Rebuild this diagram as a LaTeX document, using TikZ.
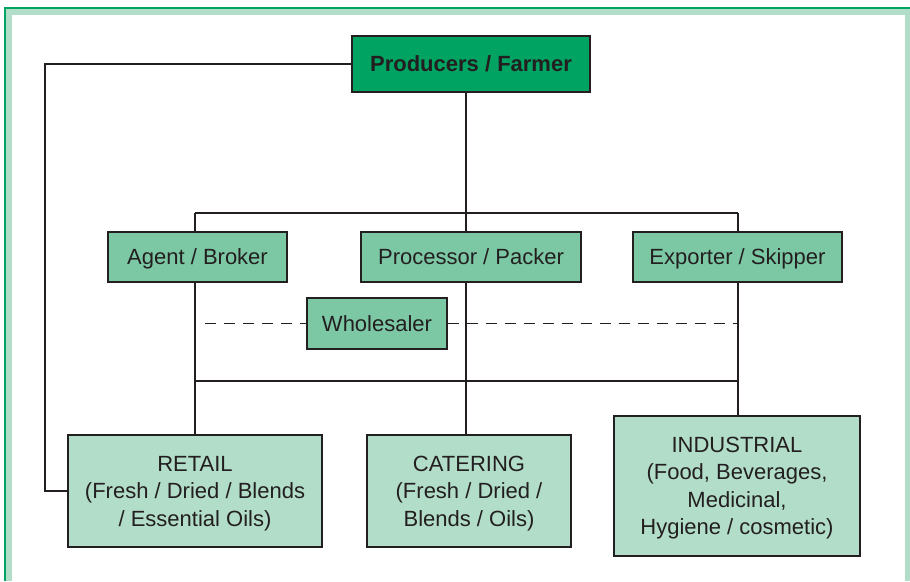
\documentclass[tikz,border=0pt]{standalone}
\usepackage{fontspec}
\setmainfont{Liberation Sans}
\usetikzlibrary{positioning, calc}

\definecolor{darkleaf}{RGB}{0,163,98}
\definecolor{midleaf}{RGB}{124,200,164}
\definecolor{paleleaf}{RGB}{178,221,201}
\definecolor{inkgray}{RGB}{35,31,32}

\begin{document}
\begin{tikzpicture}[x=1pt,y=1pt]
		\tikzstyle{every path}=[line width=1.3pt, inkgray]
		\tikzstyle{every node}=[font=\fontsize{22}{27.5}\selectfont, inner sep=0pt, align=center]
		
		\tikzstyle{topbox}=[draw=inkgray, fill=darkleaf, text depth=0pt, font=\fontsize{22}{27.5}\selectfont\bfseries]
		\tikzstyle{midbox}=[draw=inkgray, fill=midleaf, text depth=0pt, minimum height=50pt]
		\tikzstyle{endbox}=[draw=inkgray, fill=paleleaf, text depth=0pt]
		\tikzstyle{dashline}=[dash pattern=on 11pt off 8pt]
		
		\useasboundingbox (0,0) rectangle (910,581);
		
		%% Rahmen
		\fill[paleleaf] (6,0) rectangle (12,572);
		\fill[paleleaf] (6,565.5) rectangle (910,572);
		\fill[paleleaf] (905,0) rectangle (910,572);
		\fill[darkleaf] (4,0) rectangle (6,574);
		\fill[darkleaf] (4,572) rectangle (910,574);
		
		%% Kaestchen
		\node[topbox, minimum width=238pt, minimum height=56pt] (prod) at (471,517) {Producers / Farmer};
		
		\node[midbox, minimum width=179pt] (agent) at (197.5,324) {Agent / Broker};
		\node[midbox, minimum width=220pt] (proc)  at (471,324)   {Processor / Packer};
		\node[midbox, minimum width=209pt] (exp)   at (737.5,324) {Exporter / Skipper};
		\node[midbox, minimum width=140pt, minimum height=51pt] (whole) at (377,257.5) {Wholesaler};
		
		\node[endbox, minimum width=254pt, minimum height=112pt] (retail) at (195,90)
		{RETAIL\\(Fresh / Dried / Blends\\/ Essential Oils)};
		\node[endbox, minimum width=204pt, minimum height=112pt] (cater) at (469,90)
		{CATERING\\(Fresh / Dried /\\Blends / Oils)};
		\node[endbox, minimum width=246pt, minimum height=140pt] (indus) at (737,95)
		{INDUSTRIAL\\(Food, Beverages,\\Medicinal,\\Hygiene / cosmetic)};
		
		%% Verbindungen
		\coordinate (tl)  at (195,368);
		\coordinate (tm)  at (466,368);
		\coordinate (tr)  at (738,368);
		\coordinate (bl)  at (195,200);
		\coordinate (br)  at (738,200);
		\coordinate (lft) at (45,90);
		\coordinate (dl)  at (205,257.5);
		
		\draw (prod.west) -| (lft) -- (retail.west);
		\draw (tm |- prod.south) -- (tm);
		\draw (tl) -- (tr);
		\draw (tl) -- (tl |- agent.north);
		\draw (tm) -- (tm |- proc.north);
		\draw (tr) -- (tr |- exp.north);
		
		\draw (tl |- agent.south) -- (tl |- retail.north);
		\draw (tm |- proc.south) -- (tm |- cater.north);
		\draw (tr |- exp.south) -- (tr |- indus.north);
		\draw (bl) -- (br);
		
		\draw[dashline] (dl) -- (whole.west);
		\draw[dashline] (whole.east) -- (tr |- whole.east);
		
	\end{tikzpicture}
\end{document}
